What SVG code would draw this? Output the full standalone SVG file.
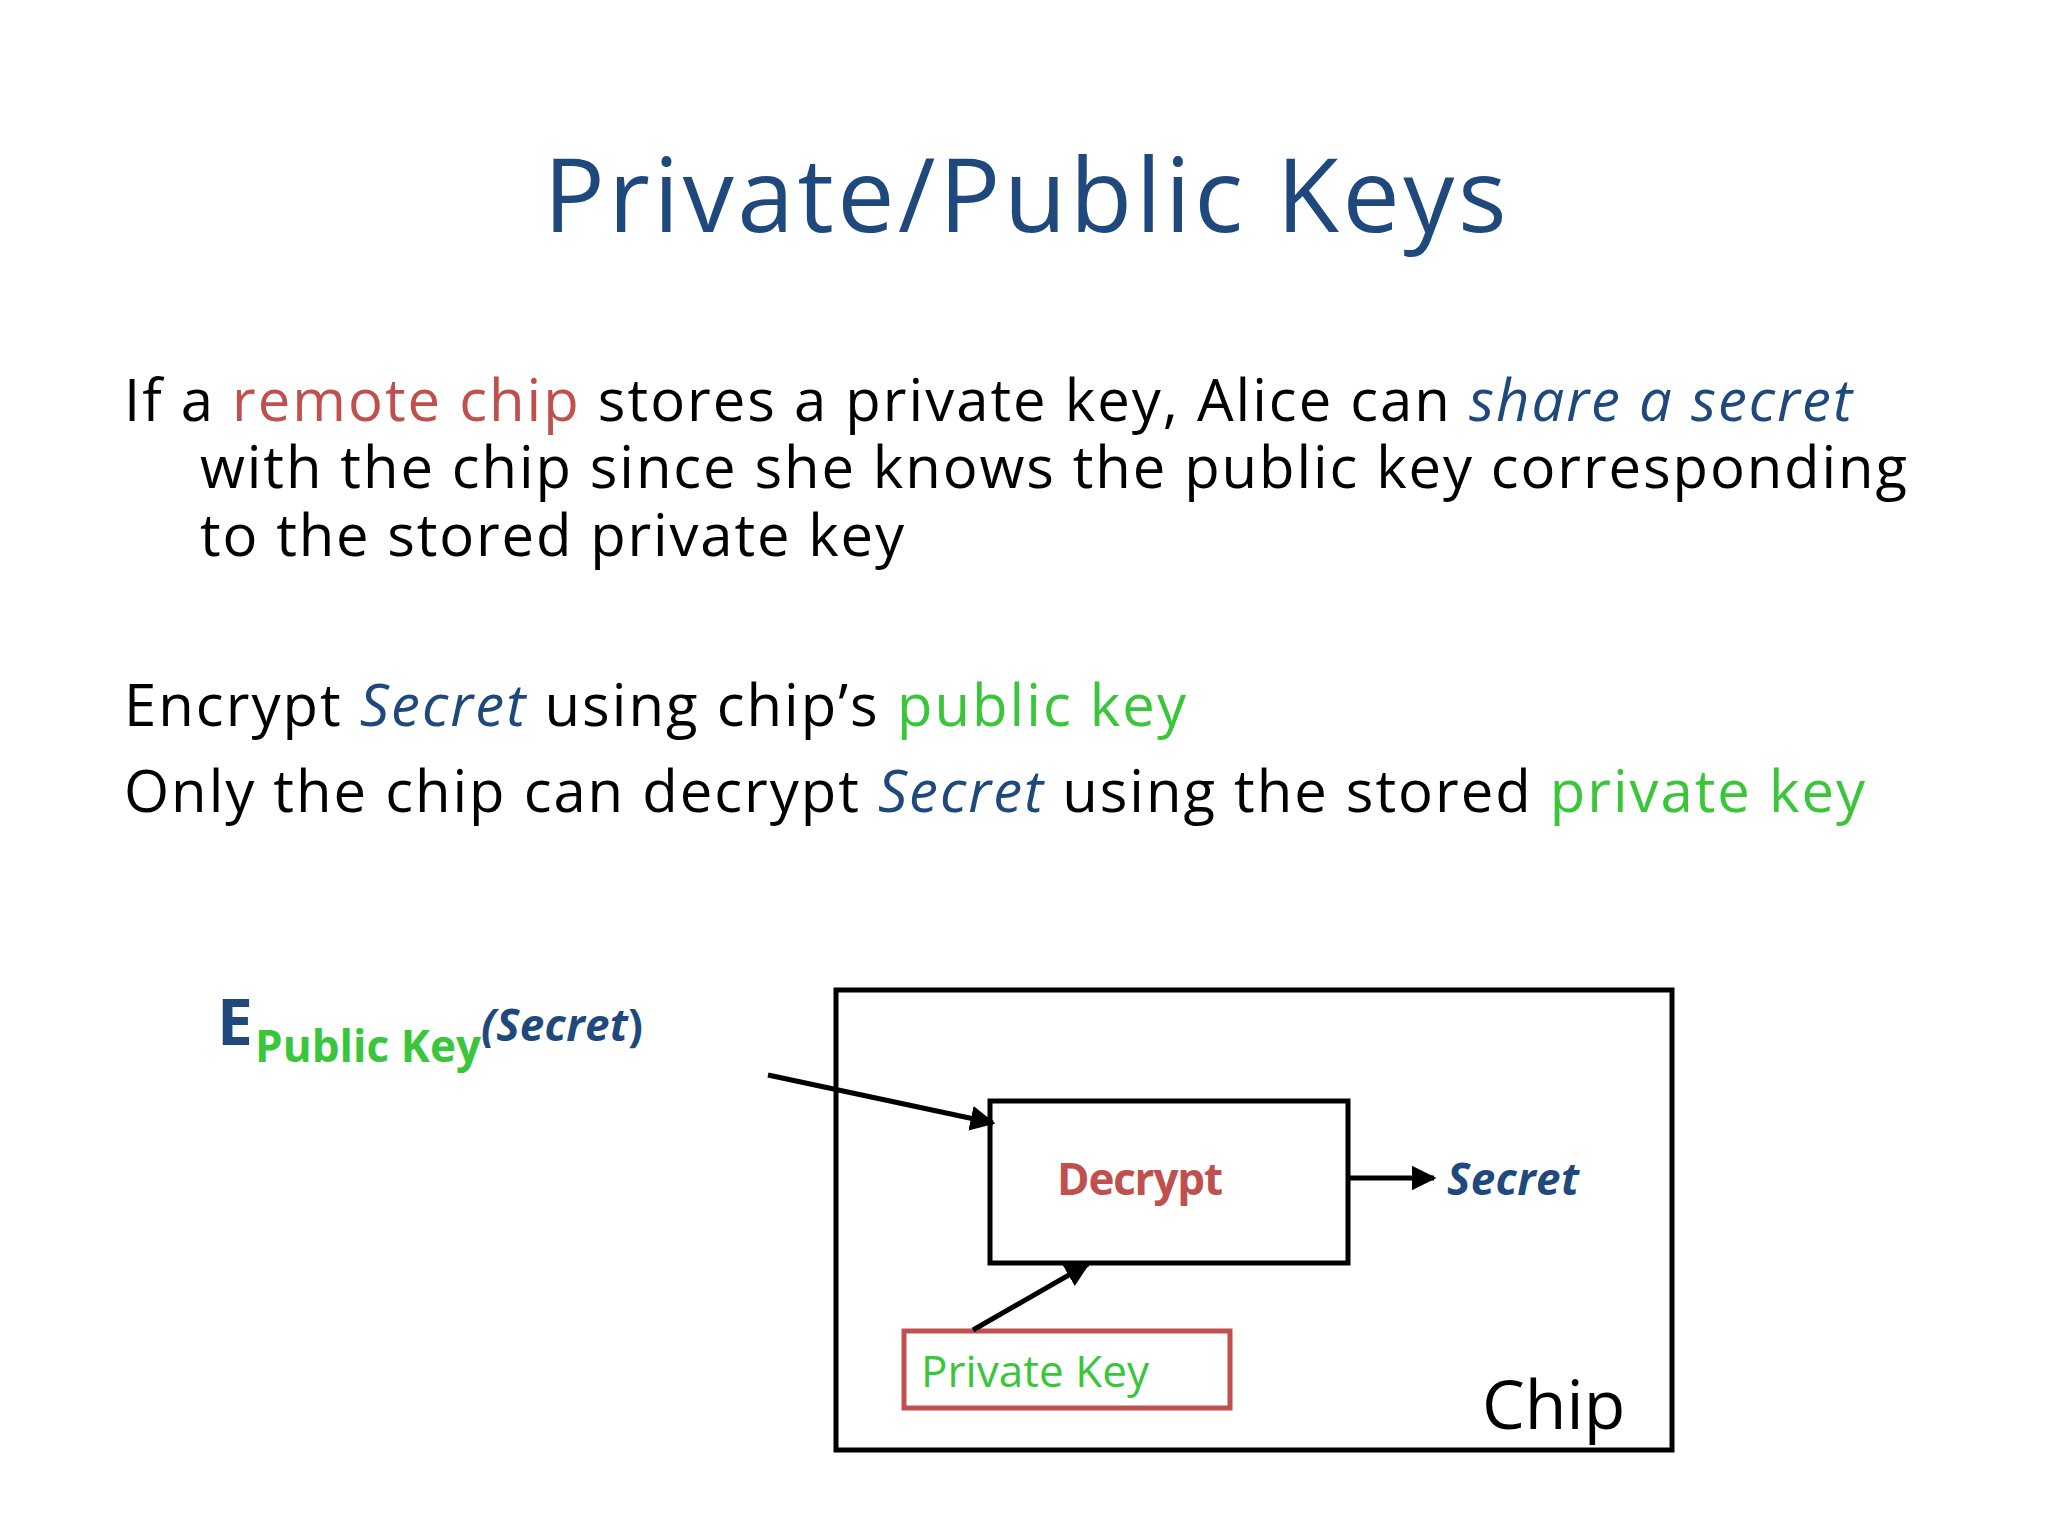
<svg xmlns="http://www.w3.org/2000/svg" width="2048" height="1536" viewBox="0 0 2048 1536">
<style>
text{font-family:"Open Sans",Lato,"Liberation Sans",sans-serif;fill:#000}
.nv{fill:#1f497d}.rd{fill:#c0504d}.gr{fill:#3ac63a}
.it{font-style:italic}.b{font-weight:bold}
.body{font-size:58px}
</style>
<defs>
<marker id="ah" viewBox="0 0 10 10" refX="9" refY="5" markerWidth="5" markerHeight="5" orient="auto-start-reverse" markerUnits="strokeWidth"><path d="M0,0L10,5L0,10z" fill="#000"/></marker>
</defs>
<rect width="2048" height="1536" fill="#fff"/>
<text x="1025" y="232" font-size="102" text-anchor="middle" class="nv" textLength="963">Private/Public Keys</text>
<g class="body">
<text x="124" y="421" textLength="1728">If a <tspan class="rd">remote chip</tspan> stores a private key, Alice can <tspan class="nv it">share a secret</tspan></text>
<text x="200" y="488" textLength="1707">with the chip since she knows the public key corresponding</text>
<text x="200" y="556" textLength="704">to the stored private key</text>
<text x="124" y="726" textLength="1062">Encrypt <tspan class="nv it">Secret</tspan> using chip’s <tspan class="gr">public key</tspan></text>
<text x="124" y="812" textLength="1741">Only the chip can decrypt <tspan class="nv it">Secret</tspan> using the stored <tspan class="gr">private key</tspan></text>
</g>
<g id="elabel">
<text x="217" y="1045" font-size="64" class="nv b">E</text>
<text x="255" y="1062" font-size="44" class="gr b" textLength="226">Public Key</text>
<text x="481" y="1041" font-size="44" class="nv b" textLength="162"><tspan class="it">(Secret</tspan>)</text>
</g>
<g id="chip">
<rect x="836" y="990" width="836" height="460" fill="none" stroke="#000" stroke-width="5"/>
<text x="1482" y="1429" font-size="68">Chip</text>
</g>
<g id="decrypt">
<rect x="990" y="1101" width="358" height="162" fill="none" stroke="#000" stroke-width="5"/>
<text x="1057" y="1195" font-size="44" class="rd b" textLength="166">Decrypt</text>
</g>
<g id="secret">
<text x="1447" y="1195" font-size="44" class="nv b it" textLength="132">Secret</text>
</g>
<g id="privkey">
<rect x="904" y="1331" width="326" height="77" fill="none" stroke="#c0504d" stroke-width="5"/>
<text x="921" y="1387" font-size="44" class="gr" textLength="228">Private Key</text>
</g>
<g id="connectors" stroke="#000" stroke-width="5" fill="none">
<line x1="768" y1="1075" x2="993" y2="1123" marker-end="url(#ah)"/>
<line x1="1350" y1="1178" x2="1434" y2="1178" marker-end="url(#ah)"/>
<line x1="973" y1="1330" x2="1088" y2="1264" marker-end="url(#ah)"/>
</g>
</svg>
